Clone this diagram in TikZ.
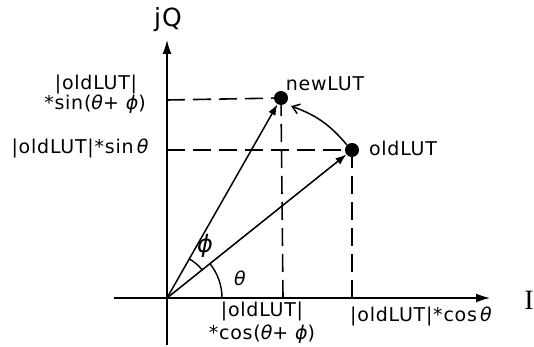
\documentclass[tikz,border=0pt]{standalone}
\usepackage{fontspec}
\setmainfont[LetterSpace=4]{DejaVu Sans}
\newfontfamily\serifI{Liberation Serif}
\usetikzlibrary{arrows.meta}
\newcommand{\gth}{{\itshape θ}}
\newcommand{\gph}{{\itshape ϕ}}
\begin{document}
\begin{tikzpicture}[x=1pt,y=-1pt,
  lab/.style={font=\fontsize{19}{21}\selectfont, inner sep=0pt, align=center},
  dot/.style={circle, fill=black, minimum size=14pt, inner sep=0pt},
  axis/.style={line width=1.4pt, -{Latex[length=14pt,width=9pt]}},
  vec/.style={line width=1.5pt, -{Latex[length=11pt,width=8pt]}},
  guide/.style={line width=1.6pt, dash pattern=on 18pt off 8pt},
  angarc/.style={line width=1.4pt}]
\useasboundingbox (0,0) rectangle (534,347);
% axes
\coordinate (O) at (167,298);
\coordinate (xl) at (114,298);
\coordinate (xr) at (490,298);
\coordinate (yb) at (167,345);
\coordinate (yt) at (167,40);
\draw[axis] (xl) -- (xr);
\draw[axis] (yb) -- (yt);
\node[font=\fontsize{25}{27}\selectfont, inner sep=0pt] (jq) at (168,20) {jQ};
\node[font=\serifI\fontsize{28}{30}\selectfont, inner sep=0pt] (I) at (529,300) {I};
% points
\node[dot] (new) at (281,98) {};
\node[dot] (old) at (352,150) {};
% guides
\coordinate (ynew) at (167,100);
\coordinate (yold) at (167,150);
\coordinate (xnew) at (283,298);
\coordinate (xold) at (352,298);
\draw[guide] (ynew) -- (new.center);
\draw[guide] (yold) -- (old.center);
\draw[guide] (new.center) -- (xnew);
\draw[guide] (old.center) -- (xold);
% vectors
\draw[vec] (O) -- (old);
\draw[vec] (O) -- (new);
\draw[line width=1.5pt, -{Straight Barb[length=7pt,width=10pt]}] (old.north west) to[bend right=15] ([shift={(5,3)}]new.south east);
% angle arcs
\draw[angarc] (O) ++(55,0) arc[start angle=0, end angle=-38.7, radius=55];
\draw[angarc] (O) ++(-38.7:45) arc[start angle=-38.7, end angle=-60.3, radius=45];
\node[lab] (th) at (240,278) {\gth};
\node[font=\fontsize{24}{26}\selectfont, inner sep=0pt] (ph) at (205,246) {\gph};
% labels
\node[lab] (l1) at (96,84) {|oldLUT|};
\node[lab] (l2) at (95,104) {*sin(\gth+ \gph)};
\node[lab] (l3) at (80,148) {|oldLUT|*sin\,\gth};
\node[lab] (l4) at (262,311) {|oldLUT|};
\node[lab] (l5) at (262,334) {*cos(\gth+ \gph)};
\node[lab] (l6) at (421,316) {|oldLUT|*cos\,\gth};
\node[lab] (nl) at (325,84) {newLUT};
\node[lab] (ol) at (403,148) {oldLUT};
\end{tikzpicture}
\end{document}
